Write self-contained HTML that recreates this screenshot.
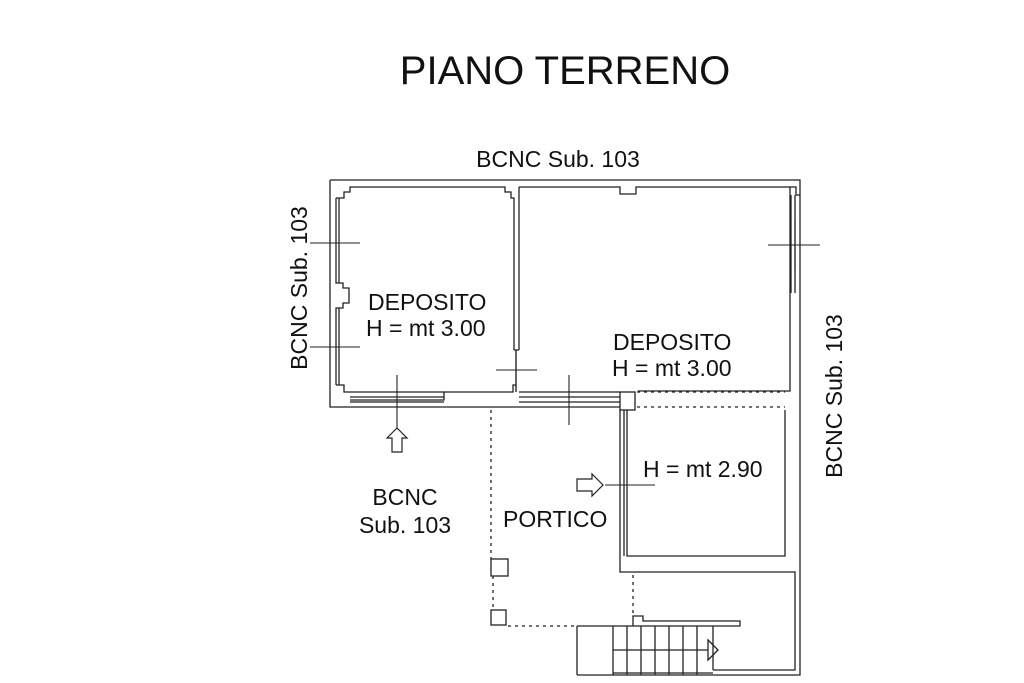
<!DOCTYPE html>
<html><head><meta charset="utf-8"><style>
html,body{margin:0;padding:0;background:#fff;}
svg{display:block;}
text{font-family:"Liberation Sans",sans-serif;fill:#111;}
</style></head><body>
<svg width="1024" height="683" viewBox="0 0 1024 683" xmlns="http://www.w3.org/2000/svg">
<g fill="none" stroke="#222" stroke-width="1.3">
<path d="M330 180 H800 V675 H577"/>
<path d="M330 180 V407 H620"/>
<path d="M336 198 H344 V192 H350 V187 H505 V192 H511 V198 H514 V350"/>
<path d="M336 198 V283 H343 V288 H349 V303 H343 V308 H336 V385"/>
<path d="M336 385 H344 V392 H350 V392 H444 V400 H350"/>
<path d="M339 198 V283 M339 308 V385"/>
<path d="M350 397 H444 M350 402 H444"/>
<path d="M444 392 H513 V385 H516"/>
<path d="M519 187 V350 M514 350 H519 M516 350 V392"/>
<path d="M519 187 H620 V194 H636 V187 H790 V391 H638"/>
<path d="M790 187 H796 V195 H800"/>
<path d="M791 195 V293 M795 195 V293"/>
<path d="M519 392 H620 M519 397 H620 M519 402 H620"/>
<rect x="620" y="392" width="15" height="18"/>
<path d="M620 410 V572 H795 V670 H713"/>
<path d="M624 410 V556 M627 410 V556 H785 V410"/>
<path d="M577 626 V675 M613 626 V675 M627 626 V675 M641 626 V675 M655 626 V675 M669 626 V675 M683 626 V675 M697 626 V675 M713 626 V670"/>
<path d="M577 626 H633 V616 H643 V621 H740 V626 H633"/>
<path d="M613 673 H713"/>
<path d="M613 650 H708"/>
<path d="M708 640 L718 650 L708 660 Z"/>
<rect x="491" y="559" width="17" height="17"/>
<rect x="491" y="610" width="15" height="15"/>
</g>
<g fill="none" stroke="#222" stroke-width="1.3" stroke-dasharray="3,4">
<path d="M637 392 H785 M637 407 H785"/>
<path d="M491 410 V559 M493 576 V610"/>
<path d="M508 626 H577"/>
<path d="M633 575 V616"/>
</g>
<g stroke="#222" stroke-width="1.1">
<path d="M310 243 H360 M310 347 H360 M397 375 V428 M496 370 H537 M516 350 V392 M569 375 V425 M768 245 H820 M795 220 V270 M605 485 H655"/>
</g>
<path d="M397 428 L387 438 H392 V452 H402 V438 H407 Z" fill="#fff" stroke="#222" stroke-width="1.2"/>
<path d="M603 485 L592 474 V479 H577 V491 H592 V496 Z" fill="#fff" stroke="#222" stroke-width="1.2"/>
<text x="565" y="84" font-size="40" text-anchor="middle">PIANO TERRENO</text>
<text x="558" y="167" font-size="23" text-anchor="middle">BCNC Sub. 103</text>
<text transform="translate(307,288) rotate(-90)" font-size="23" text-anchor="middle">BCNC Sub. 103</text>
<text transform="translate(842,396) rotate(-90)" font-size="23" text-anchor="middle">BCNC Sub. 103</text>
<text x="368" y="310" font-size="23">DEPOSITO</text>
<text x="366" y="336" font-size="23">H = mt 3.00</text>
<text x="613" y="350" font-size="23">DEPOSITO</text>
<text x="612" y="376" font-size="23">H = mt 3.00</text>
<text x="643" y="477" font-size="23">H = mt 2.90</text>
<text x="503" y="527" font-size="23">PORTICO</text>
<text x="405" y="505" font-size="23" text-anchor="middle">BCNC</text>
<text x="405" y="533" font-size="23" text-anchor="middle">Sub. 103</text>
</svg>
</body></html>
